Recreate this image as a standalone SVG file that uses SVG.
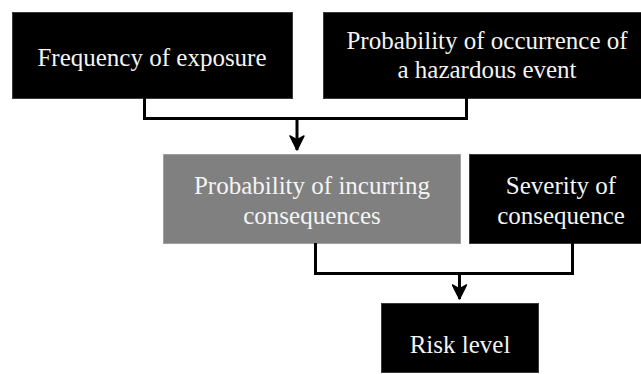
<svg xmlns="http://www.w3.org/2000/svg" width="641" height="374" viewBox="0 0 641 374">
<style>
.box{fill:#000;stroke:#3a3a3a;stroke-width:1}
.grey{fill:#808080;stroke:#a0a0a0;stroke-width:1}
.t{font-family:"Liberation Serif","Times New Roman",serif;font-size:25px;fill:#f4f4f4;text-anchor:middle}
.c{fill:none;stroke:#000;stroke-width:3;stroke-linejoin:miter}
</style>
<defs>
<marker id="ah" viewBox="0 0 16 16" refX="15" refY="8" markerWidth="16" markerHeight="16" markerUnits="userSpaceOnUse" orient="auto">
<path d="M1,1 L15,8 L1,15 L5,8 Z" fill="#000" stroke="#000" stroke-width="1.5" stroke-linejoin="round"/>
</marker>
</defs>
<rect width="641" height="374" fill="#fff"/>
<g id="node-frequency">
<rect class="box" x="12.5" y="12.5" width="280" height="86"/>
<text class="t" x="152" y="66">Frequency of exposure</text>
</g>
<g id="node-probability-occurrence">
<rect class="box" x="323.5" y="12.5" width="320" height="86"/>
<text class="t" x="487" y="49">Probability of occurrence of</text>
<text class="t" x="487" y="78">a hazardous event</text>
</g>
<g id="node-probability-consequences">
<rect class="grey" x="163.5" y="154.5" width="297" height="89"/>
<text class="t" x="312" y="194">Probability of incurring</text>
<text class="t" x="312" y="224">consequences</text>
</g>
<g id="node-severity">
<rect class="box" x="469.5" y="154.5" width="174" height="89"/>
<text class="t" x="561" y="194">Severity of</text>
<text class="t" x="561" y="224">consequence</text>
</g>
<g id="node-risk">
<rect class="box" x="381.5" y="303.5" width="157" height="69"/>
<text class="t" x="460" y="353">Risk level</text>
</g>
<g id="connectors">
<path class="c" d="M144.5,98 V118.5 H466.5 V98"/>
<path class="c" d="M297,118.5 V150" marker-end="url(#ah)"/>
<path class="c" d="M315.5,243 V273.5 H572.5 V243"/>
<path class="c" d="M459.5,273.5 V299" marker-end="url(#ah)"/>
</g>
</svg>
